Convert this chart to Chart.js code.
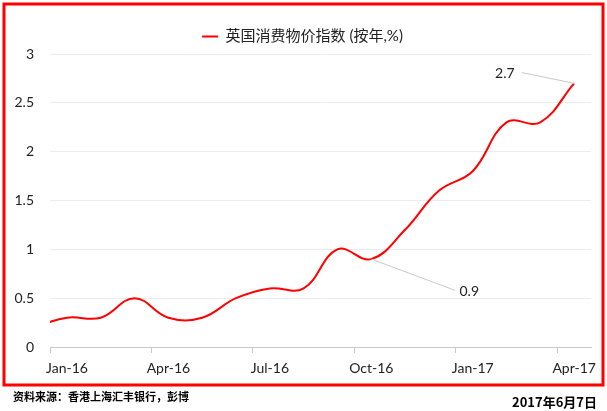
<!DOCTYPE html>
<html lang="zh">
<head>
<meta charset="UTF-8" />
<script src="https://cdn.jsdelivr.net/npm/chart.js"></script>
<style>
  body { margin: 0; background: #fff; }
  #wrap { width: 607px; height: 411px; position: relative; }
</style>
</head>
<body>
<div id="wrap"><canvas id="cpi"></canvas></div>
<script>
// month positions: 0 = start of Jan-16, points sit mid-month
const months = [-0.5, 0.5, 1.5, 2.5, 3.5, 4.5, 5.5, 6.5, 7.5, 8.5, 9.5, 10.5, 11.5, 12.5, 13.5, 14.5, 15.5];
const cpi = [0.2, 0.3, 0.3, 0.5, 0.3, 0.3, 0.5, 0.6, 0.6, 1.0, 0.9, 1.2, 1.6, 1.8, 2.3, 2.3, 2.7];
const tickLabels = ['Jan-16', 'Apr-16', 'Jul-16', 'Oct-16', 'Jan-17', 'Apr-17'];
const callouts = [
  { text: '2.7', at: [15.5, 2.7], end: [13.95, 2.81], label: [13.45, 2.8] },
  { text: '0.9', at: [9.5, 0.9], end: [11.98, 0.58], label: [12.4, 0.57] }
];

const FONT = 'Lato, "Noto Sans CJK SC", sans-serif';

const frame = {
  id: 'frame',
  afterDraw(chart) {
    const c = chart.ctx, xs = chart.scales.x, ys = chart.scales.y;
    c.save();
    // callouts
    c.strokeStyle = '#c8c8c8';
    c.lineWidth = 1;
    c.fillStyle = '#222';
    c.font = '14px ' + FONT;
    c.textAlign = 'center';
    c.textBaseline = 'middle';
    callouts.forEach(o => {
      c.beginPath();
      c.moveTo(xs.getPixelForValue(o.at[0]), ys.getPixelForValue(o.at[1]));
      c.lineTo(xs.getPixelForValue(o.end[0]), ys.getPixelForValue(o.end[1]));
      c.stroke();
      c.fillText(o.text, xs.getPixelForValue(o.label[0]), ys.getPixelForValue(o.label[1]));
    });
    // red border
    c.strokeStyle = '#ff0000';
    c.lineWidth = 3;
    c.strokeRect(4, 4, 599, 381);
    // footer
    c.fillStyle = '#000';
    c.font = 'bold 11px "Noto Sans CJK SC", sans-serif';
    c.textAlign = 'left';
    c.fillText('资料来源：香港上海汇丰银行，彭博', 13, 397);
    c.font = 'bold 13px "Noto Sans CJK SC", sans-serif';
    c.textAlign = 'right';
    c.fillText('2017年6月7日', 597, 402);
    c.restore();
  }
};

new Chart(document.getElementById('cpi'), {
  type: 'line',
  data: {
    datasets: [{
      label: '英国消费物价指数 (按年,%)',
      data: months.map((m, i) => ({ x: m, y: cpi[i] })),
      borderColor: '#ff0000',
      backgroundColor: '#ff0000',
      borderWidth: 2,
      pointRadius: 0,
      tension: 0.4
    }]
  },
  options: {
    responsive: true,
    maintainAspectRatio: false,
    animation: false,
    layout: { padding: { left: 14, right: 16, top: 7, bottom: 34 } },
    plugins: {
      legend: {
        labels: {
          font: { family: FONT, size: 15 },
          color: '#222',
          boxWidth: 16,
          boxHeight: 0,
          padding: 22
        }
      },
      tooltip: { enabled: false }
    },
    scales: {
      x: {
        type: 'linear',
        min: 0,
        max: 16,
        afterBuildTicks: s => { s.ticks = tickLabels.map((t, i) => ({ value: i * 3 })); },
        afterFit: s => { s.height = 30; },
        ticks: {
          callback: (v) => tickLabels[v / 3],
          labelOffset: 17,
          padding: 7,
          maxRotation: 0,
          font: { family: FONT, size: 14 },
          color: '#222'
        },
        grid: { drawOnChartArea: false, color: '#c8c8c8', tickLength: 6 },
        border: { color: '#c8c8c8' }
      },
      y: {
        min: 0,
        max: 3,
        afterFit: s => { s.width = 36; },
        ticks: { stepSize: 0.5, callback: v => String(v), font: { family: FONT, size: 14 }, color: '#222', padding: 16 },
        grid: { color: '#ececec', drawTicks: false },
        border: { display: false }
      }
    }
  },
  plugins: [frame]
});
</script>
</body>
</html>
